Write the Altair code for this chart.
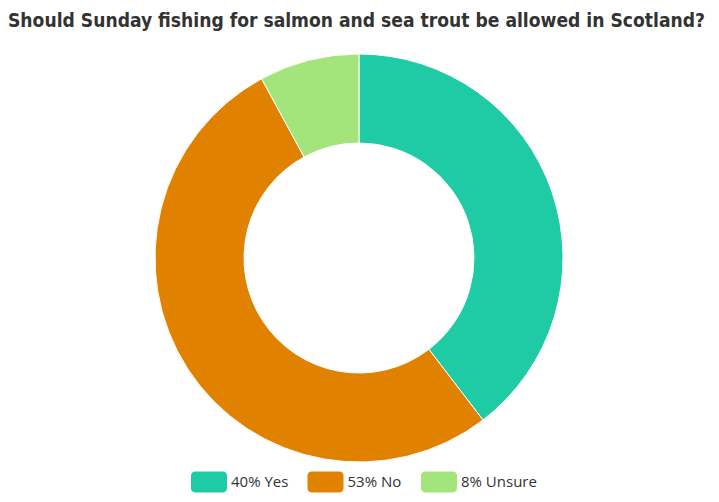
import altair as alt
import pandas as pd

categories = ["Yes", "No", "Unsure"]
values = [40, 53, 8]
labels = ["40% Yes", "53% No", "8% Unsure"]
colors = ["#1ecba5", "#e08100", "#a3e57a"]

df = pd.DataFrame({
    "label": labels,
    "value": values,
    "order": list(range(len(categories))),
})

rounded = ("M-1.333,-1H1.333A0.38,0.38 0 0 1 1.714,-0.62V0.62A0.38,0.38 0 0 1 1.333,1"
           "H-1.333A0.38,0.38 0 0 1 -1.714,0.62V-0.62A0.38,0.38 0 0 1 -1.333,-1Z")

chart = alt.Chart(df).mark_arc(
    innerRadius=115, outerRadius=204, stroke="white", strokeWidth=1
).encode(
    theta=alt.Theta("value:Q", stack=True),
    order=alt.Order("order:Q"),
    color=alt.Color(
        "label:N",
        scale=alt.Scale(domain=labels, range=colors),
        legend=alt.Legend(
            title=None,
            orient="none",
            direction="horizontal",
            legendX=190.5,
            legendY=435,
            padding=0,
            symbolType=rounded,
            symbolSize=441,
            symbolStrokeWidth=0,
            symbolOpacity=1,
            labelFontSize=15,
            labelFont="Open Sans",
            labelColor="#333333",
            labelOffset=11.5,
            columnPadding=18.5,
        ),
    ),
).properties(
    width=702,
    height=444,
    padding={"top": 3, "left": 0, "right": 0, "bottom": 0},
    title=alt.TitleParams(
        "Should Sunday fishing for salmon and sea trout be allowed in Scotland?",
        anchor="start",
        fontSize=19.1,
        font="DejaVu Sans Condensed",
        fontWeight="bold",
        color="#333333",
        offset=5,
    ),
).configure_view(stroke=None)

chart.save("out.html", embed_options={"renderer": "svg", "actions": False})
